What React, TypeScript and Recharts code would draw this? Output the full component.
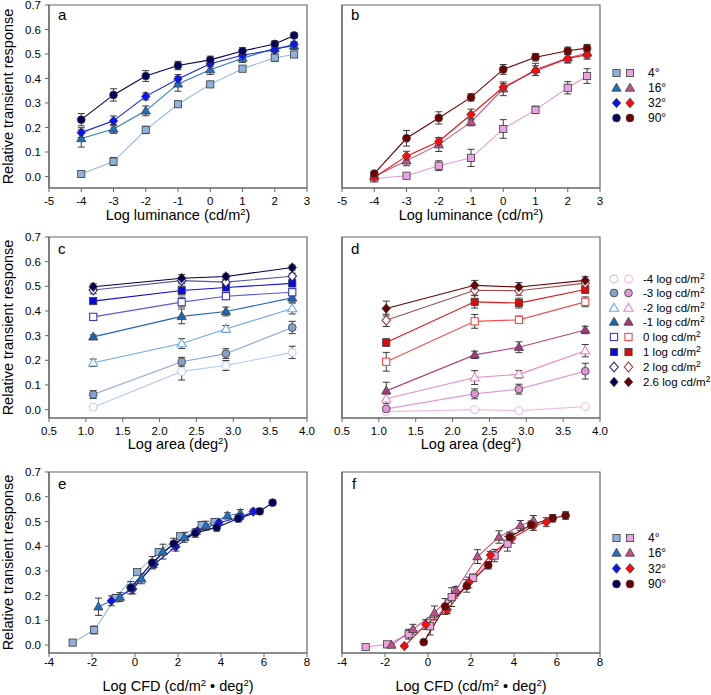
import React from 'react'
import { LineChart, Line, XAxis, YAxis, ErrorBar, ReferenceArea } from 'recharts'

const FONT = '"Liberation Sans", Arial, sans-serif'
const FRAME = '#666666'
const EDGE = '#3c3c3c'

// stimulus luminance (log cd/m2) and stimulus sizes (log deg2)
const logLuminance = [-4, -3, -2, -1, 0, 1, 2, 2.6]
const luminanceNames = ['-4', '-3', '-2', '-1', '0', '1', '2', '2.6']
const sizeNames = ['4°', '16°', '32°', '90°']
const logArea = [1.1, 2.3, 2.9, 3.8]

// blue group, rows = size, columns = luminance
const blue4 = [0.01, 0.061, 0.19, 0.295, 0.376, 0.44, 0.485, 0.498]
const blue16 = [0.155, 0.194, 0.268, 0.378, 0.436, 0.483, 0.523, 0.533]
const blue32 = [0.179, 0.227, 0.327, 0.398, 0.46, 0.495, 0.517, 0.54]
const blue90 = [0.232, 0.333, 0.41, 0.453, 0.476, 0.512, 0.541, 0.576]
const blueErr4 = [0.006, 0.016, 0.015, 0.008, 0.008, 0.01, 0.015, 0.012]
const blueErr16 = [0.035, 0.018, 0.02, 0.03, 0.02, 0.018, 0.012, 0.015]
const blueErr32 = [0.02, 0.02, 0.014, 0.018, 0.012, 0.01, 0.01, 0.01]
const blueErr90 = [0.025, 0.025, 0.022, 0.017, 0.015, 0.014, 0.012, 0.01]

// red group
const red4 = [-0.008, 0.003, 0.044, 0.076, 0.194, 0.272, 0.362, 0.41]
const red16 = [0.0, 0.064, 0.13, 0.222, 0.358, 0.437, 0.484, 0.504]
const red32 = [-0.004, 0.083, 0.143, 0.253, 0.364, 0.432, 0.482, 0.497]
const red90 = [0.012, 0.156, 0.239, 0.323, 0.437, 0.487, 0.513, 0.524]
const redErr4 = [0.005, 0.008, 0.02, 0.035, 0.038, 0.015, 0.025, 0.03]
const redErr16 = [0.005, 0.02, 0.028, 0.015, 0.028, 0.025, 0.02, 0.02]
const redErr32 = [0.005, 0.02, 0.015, 0.022, 0.015, 0.02, 0.018, 0.018]
const redErr90 = [0.005, 0.032, 0.025, 0.015, 0.02, 0.015, 0.015, 0.015]

const yTicks = [0, 0.1, 0.2, 0.3, 0.4, 0.5, 0.6, 0.7]
const lumTicks = [-5, -4, -3, -2, -1, 0, 1, 2, 3]
const areaTicks = [0.5, 1, 1.5, 2, 2.5, 3, 3.5, 4]
const cfdTicks = [-4, -2, 0, 2, 4, 6, 8]

type Shape = 'square' | 'triangle' | 'diamond' | 'circle'
interface Style { shape: Shape; color: string; line: string; open?: boolean }
type Pt = { x: number; y: number; e: number }

const blueSize: Style[] = [
  { shape: 'square', color: '#8eb1dd', line: '#93b6e3' },
  { shape: 'triangle', color: '#1f6fc5', line: '#2a78cc' },
  { shape: 'diamond', color: '#0a14f5', line: '#1420d8' },
  { shape: 'circle', color: '#00005e', line: '#00005e' },
]
const redSize: Style[] = [
  { shape: 'square', color: '#eaa2e2', line: '#e49ad8' },
  { shape: 'triangle', color: '#c2508c', line: '#c8558f' },
  { shape: 'diamond', color: '#ff0a0a', line: '#e81010' },
  { shape: 'circle', color: '#700000', line: '#700000' },
]
const blueLum: Style[] = [
  { shape: 'circle', color: '#b6cdeb', line: '#b6cdeb', open: true },
  { shape: 'circle', color: '#85a2cc', line: '#8aa6d0' },
  { shape: 'triangle', color: '#6ea8e6', line: '#6ea8e6', open: true },
  { shape: 'triangle', color: '#1e64b8', line: '#1e64b8' },
  { shape: 'square', color: '#3a3ad0', line: '#5a5ad6', open: true },
  { shape: 'square', color: '#0a0ae0', line: '#1010d0' },
  { shape: 'diamond', color: '#24248a', line: '#5a5a9a', open: true },
  { shape: 'diamond', color: '#00004a', line: '#00004a' },
]
const redLum: Style[] = [
  { shape: 'circle', color: '#f2bce9', line: '#f2bce9', open: true },
  { shape: 'circle', color: '#dd95d8', line: '#e09ad8' },
  { shape: 'triangle', color: '#e888c4', line: '#e888c4', open: true },
  { shape: 'triangle', color: '#a83a7c', line: '#b04480' },
  { shape: 'square', color: '#ee4a4a', line: '#ee5050', open: true },
  { shape: 'square', color: '#dd0a0a', line: '#dd1a1a' },
  { shape: 'diamond', color: '#a03c3c', line: '#a05050', open: true },
  { shape: 'diamond', color: '#6a0000', line: '#6a0000' },
]

const blueVals = [blue4, blue16, blue32, blue90]
const blueErrs = [blueErr4, blueErr16, blueErr32, blueErr90]
const redVals = [red4, red16, red32, red90]
const redErrs = [redErr4, redErr16, redErr32, redErr90]

// series per size against log luminance (or log CFD = luminance + area)
const bySize = (vals: number[][], errs: number[][], cfd: boolean): Pt[][] =>
  vals.map((row, i) =>
    row.map((y, j) => ({
      x: cfd ? Math.round((logLuminance[j] + logArea[i]) * 10) / 10 : logLuminance[j],
      y,
      e: errs[i][j],
    }))
  )
// series per luminance against log area
const byLum = (vals: number[][], errs: number[][]): Pt[][] =>
  logLuminance.map((_, j) => logArea.map((a, i) => ({ x: a, y: vals[i][j], e: errs[i][j] })))

function Marker({ cx, cy, st }: { cx: number; cy: number; st: Style }) {
  const fill = st.open ? '#ffffff' : st.color
  const stroke = st.open ? st.color : EDGE
  const sw = st.open ? 1.1 : 0.8
  if (st.shape === 'square')
    return <rect x={cx - 3.6} y={cy - 3.6} width={7.2} height={7.2} fill={fill} stroke={stroke} strokeWidth={sw} />
  if (st.shape === 'circle') return <circle cx={cx} cy={cy} r={3.9} fill={fill} stroke={stroke} strokeWidth={sw} />
  if (st.shape === 'triangle')
    return (
      <polygon
        points={`${cx},${cy - 4.8} ${cx + 4.6},${cy + 3.2} ${cx - 4.6},${cy + 3.2}`}
        fill={fill}
        stroke={stroke}
        strokeWidth={sw}
      />
    )
  return (
    <polygon
      points={`${cx},${cy - 4.8} ${cx + 4.2},${cy} ${cx},${cy + 4.8} ${cx - 4.2},${cy}`}
      fill={fill}
      stroke={stroke}
      strokeWidth={sw}
    />
  )
}

const lumTitle = (
  <>
    Log luminance (cd/m<tspan dy={-5.5} fontSize={9.5}>2</tspan>
    <tspan dy={5.5}>)</tspan>
  </>
)
const areaTitle = (
  <>
    Log area (deg<tspan dy={-5.5} fontSize={9.5}>2</tspan>
    <tspan dy={5.5}>)</tspan>
  </>
)
const cfdTitle = (
  <>
    Log CFD (cd/m<tspan dy={-5.5} fontSize={9.5}>2</tspan>
    <tspan dy={5.5}> {'\u2022'} deg</tspan>
    <tspan dy={-5.5} fontSize={9.5}>2</tspan>
    <tspan dy={5.5}>)</tspan>
  </>
)

interface PanelProps {
  left: number
  top: number
  plotH: number
  axisH: number
  yAxisW: number
  yMin: number
  xDomain: [number, number]
  xTicks: number[]
  xDigits: number
  tickGap: number
  titleY: number
  title: React.ReactNode
  series: Pt[][]
  styles: Style[]
  yTitle: boolean
}

function Panel(p: PanelProps) {
  const plotW = 258
  const width = p.yAxisW + plotW + 13
  const height = 5 + p.plotH + p.axisH
  return (
    <div style={{ position: 'absolute', left: p.left, top: p.top }}>
      <LineChart width={width} height={height} margin={{ top: 5, right: 13, left: 0, bottom: 0 }}>
        <ReferenceArea
          x1={p.xDomain[0]}
          x2={p.xDomain[1]}
          y1={p.yMin}
          y2={0.7}
          fill="none"
          fillOpacity={0}
          stroke={FRAME}
          strokeWidth={1.2}
          ifOverflow="visible"
        />
        <XAxis
          type="number"
          dataKey="x"
          domain={p.xDomain}
          ticks={p.xTicks}
          interval={0}
          allowDataOverflow
          height={p.axisH}
          tickFormatter={(v: number) => v.toFixed(p.xDigits)}
          tick={{ fill: '#000', fontSize: 11.5 }}
          tickSize={4}
          tickMargin={p.tickGap}
          axisLine={{ stroke: FRAME, strokeWidth: 1.2 }}
          tickLine={{ stroke: FRAME }}
          label={() => (
            <text
              x={p.yAxisW + plotW / 2}
              y={5 + p.plotH + p.titleY}
              textAnchor="middle"
              fontSize={14.5}
              fill="#000"
            >
              {p.title}
            </text>
          )}
        />
        <YAxis
          type="number"
          domain={[p.yMin, 0.7]}
          ticks={yTicks}
          interval={0}
          allowDataOverflow
          width={p.yAxisW}
          tickFormatter={(v: number) => v.toFixed(1)}
          tick={p.yTitle ? { fill: '#000', fontSize: 11.5 } : false}
          tickSize={4}
          tickMargin={4}
          axisLine={{ stroke: FRAME, strokeWidth: 1.2 }}
          tickLine={{ stroke: FRAME }}
          label={
            p.yTitle
              ? () => (
                  <text
                    x={12.5}
                    y={5 + p.plotH / 2}
                    transform={`rotate(-90 12.5 ${5 + p.plotH / 2})`}
                    textAnchor="middle"
                    fontSize={14.5}
                    fill="#000"
                  >
                    Relative transient response
                  </text>
                )
              : undefined
          }
        />
        {p.series.map((data, i) => (
          <Line
            key={i}
            data={data}
            dataKey="y"
            type="linear"
            stroke={p.styles[i].line}
            strokeWidth={1.1}
            isAnimationActive={false}
            activeDot={false}
            dot={(d: any) => <Marker key={d.index} cx={d.cx} cy={d.cy} st={p.styles[i]} />}
          >
            <ErrorBar dataKey="e" direction="y" width={3.5} stroke="#3a3a3a" strokeWidth={1} />
          </Line>
        ))}
      </LineChart>
    </div>
  )
}

function LegendBlock({
  x1,
  x2,
  tx,
  ys,
  left,
  right,
  labels,
  small,
}: {
  x1: number
  x2: number
  tx: number
  ys: number[]
  left: Style[]
  right: Style[]
  labels: string[]
  small?: boolean
}) {
  return (
    <g>
      {ys.map((y, i) => (
        <g key={i}>
          <Marker cx={x1} cy={y} st={left[i]} />
          <Marker cx={x2} cy={y} st={right[i]} />
          <text x={tx} y={y + 4} fontSize={small ? 11.5 : 12} fill="#000">
            {small ? (
              <>
                {labels[i]} log cd/m<tspan dy={-4.5} fontSize={8.5}>2</tspan>
              </>
            ) : (
              labels[i]
            )}
          </text>
        </g>
      ))}
    </g>
  )
}

export default function App() {
  return (
    <div
      style={{
        position: 'absolute',
        left: 0,
        top: 0,
        width: 711,
        height: 695,
        overflow: 'hidden',
        background: '#fff',
        fontFamily: FONT,
      }}
    >
      <Panel left={0} top={0} plotH={183} axisH={45} yAxisW={49} yMin={-0.047} xDomain={[-5, 3]} xTicks={lumTicks}
        xDigits={0} tickGap={4.5} titleY={32} title={lumTitle} series={bySize(blueVals, blueErrs, false)} styles={blueSize} yTitle />
      <Panel left={330} top={0} plotH={183} axisH={45} yAxisW={12} yMin={-0.047} xDomain={[-5, 3]} xTicks={lumTicks}
        xDigits={0} tickGap={4.5} titleY={32} title={lumTitle} series={bySize(redVals, redErrs, false)} styles={redSize} yTitle={false} />
      <Panel left={0} top={232} plotH={181} axisH={45} yAxisW={49} yMin={-0.034} xDomain={[0.5, 4]} xTicks={areaTicks}
        xDigits={1} tickGap={5.2} titleY={31} title={areaTitle} series={byLum(blueVals, blueErrs)} styles={blueLum} yTitle />
      <Panel left={330} top={232} plotH={181} axisH={45} yAxisW={12} yMin={-0.034} xDomain={[0.5, 4]} xTicks={areaTicks}
        xDigits={1} tickGap={5.2} titleY={31} title={areaTitle} series={byLum(redVals, redErrs)} styles={redLum} yTitle={false} />
      <Panel left={0} top={467} plotH={181} axisH={45} yAxisW={49} yMin={-0.032} xDomain={[-4, 8]} xTicks={cfdTicks}
        xDigits={0} tickGap={1} titleY={38} title={cfdTitle} series={bySize(blueVals, blueErrs, true)} styles={blueSize} yTitle />
      <Panel left={330} top={467} plotH={181} axisH={45} yAxisW={12} yMin={-0.032} xDomain={[-4, 8]} xTicks={cfdTicks}
        xDigits={0} tickGap={1} titleY={38} title={cfdTitle} series={bySize(redVals, redErrs, true)} styles={redSize} yTitle={false} />

      <svg width={711} height={695} style={{ position: 'absolute', left: 0, top: 0, pointerEvents: 'none' }}>
        <g fontSize={15} fill="#000">
          <text x={58} y={19.5}>a</text>
          <text x={351} y={20}>b</text>
          <text x={58} y={253.5}>c</text>
          <text x={351} y={254}>d</text>
          <text x={58} y={488.5}>e</text>
          <text x={352} y={488.5}>f</text>
        </g>
        <LegendBlock x1={616.5} x2={630} tx={648} ys={[73, 88, 103, 118]} left={blueSize} right={redSize} labels={sizeNames} />
        <LegendBlock x1={614} x2={628.5} tx={643} ys={[279, 293, 308, 322, 337, 352, 367, 382]} left={blueLum}
          right={redLum} labels={luminanceNames} small />
        <LegendBlock x1={616.5} x2={630} tx={648} ys={[538, 553, 568.5, 584]} left={blueSize} right={redSize} labels={sizeNames} />
      </svg>
    </div>
  )
}
